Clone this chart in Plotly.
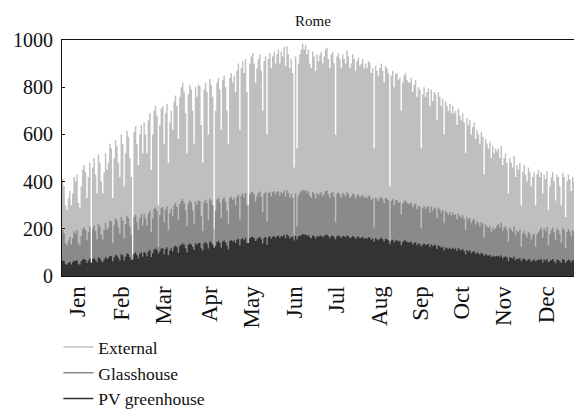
import plotly.graph_objects as go

# Daily peak irradiance (W/m2), one value per day of the year
external = (
    # Jan
    [410, 380, 300, 280, 330, 360, 300, 350, 420, 400, 430, 310, 290, 380, 450, 470, 440, 330, 420, 480, 60, 460, 500, 430, 350, 515, 480, 400, 350, 440, 520]
    # Feb
    + [450, 480, 560, 540, 330, 500, 575, 550, 480, 420, 600, 560, 380, 520, 615, 590, 500, 420, 90, 610, 635, 560, 470, 600, 640, 520, 650, 600]
    # Mar
    + [520, 660, 690, 450, 600, 700, 720, 680, 300, 640, 710, 720, 560, 690, 730, 480, 650, 700, 620, 740, 765, 720, 580, 760, 800, 820, 780, 690, 520, 770, 810]
    # Apr
    + [790, 700, 560, 800, 760, 810, 805, 640, 480, 790, 820, 780, 600, 835, 810, 760, 200, 700, 820, 840, 790, 620, 830, 850, 800, 700, 560, 840, 860, 820]
    # May
    + [850, 780, 870, 900, 620, 880, 910, 860, 920, 780, 300, 900, 930, 945, 900, 820, 880, 920, 940, 870, 700, 910, 930, 600, 920, 945, 880, 930, 950, 900, 940]
    # Jun
    + [960, 900, 950, 930, 970, 890, 975, 940, 880, 920, 860, 460, 930, 540, 900, 940, 960, 985, 960, 980, 940, 960, 900, 880, 950, 930, 870, 940, 910, 935]
    # Jul
    + [950, 900, 930, 960, 967, 920, 880, 940, 950, 900, 600, 930, 945, 920, 880, 940, 920, 900, 955, 930, 880, 900, 940, 920, 870, 910, 925, 890, 900, 920, 880]
    # Aug
    + [900, 880, 910, 905, 860, 880, 540, 890, 870, 850, 880, 900, 870, 820, 890, 880, 860, 380, 850, 870, 800, 855, 860, 830, 840, 700, 820, 850, 860, 830, 820]
    # Sep
    + [820, 840, 780, 810, 830, 760, 800, 790, 540, 770, 800, 760, 780, 795, 720, 790, 740, 780, 770, 660, 780, 760, 720, 750, 600, 740, 720, 700, 730, 690]
    # Oct
    + [720, 690, 700, 640, 710, 680, 660, 690, 650, 520, 670, 640, 660, 600, 630, 650, 580, 620, 600, 560, 610, 590, 430, 580, 560, 540, 570, 500, 550, 520, 540]
    # Nov
    + [530, 540, 500, 550, 470, 500, 520, 480, 350, 500, 480, 460, 510, 420, 470, 450, 480, 300, 440, 470, 430, 400, 460, 440, 380, 420, 440, 300, 430, 450]
    # Dec
    + [420, 440, 350, 430, 410, 445, 280, 380, 420, 440, 400, 320, 430, 420, 380, 300, 437, 420, 250, 400, 430, 410, 360, 420, 400, 330, 410, 420, 380, 300, 400]
)

glasshouse = (
    [195, 180, 140, 130, 150, 165, 135, 160, 190, 180, 195, 140, 130, 170, 200, 205, 195, 150, 185, 210, 30, 200, 215, 190, 155, 220, 210, 175, 155, 195, 225]
    + [195, 205, 235, 230, 140, 215, 245, 235, 205, 180, 250, 235, 160, 220, 255, 245, 210, 175, 40, 250, 260, 230, 195, 245, 262, 215, 265, 245]
    + [215, 265, 278, 185, 245, 285, 290, 275, 125, 260, 288, 292, 228, 280, 296, 195, 265, 285, 252, 300, 310, 292, 236, 305, 318, 325, 310, 280, 212, 308, 320]
    + [312, 278, 222, 316, 302, 320, 318, 254, 190, 312, 324, 308, 238, 328, 320, 300, 80, 277, 324, 330, 312, 245, 326, 334, 315, 277, 222, 330, 338, 322]
    + [330, 302, 336, 345, 240, 340, 350, 332, 352, 302, 118, 346, 355, 358, 345, 315, 338, 352, 358, 335, 270, 348, 355, 232, 352, 358, 338, 355, 360, 345, 356]
    + [360, 340, 356, 350, 362, 336, 364, 352, 332, 346, 330, 175, 350, 210, 340, 352, 360, 366, 360, 365, 352, 360, 340, 332, 356, 350, 328, 352, 342, 350]
    + [356, 338, 348, 360, 362, 346, 332, 352, 356, 338, 228, 348, 354, 345, 332, 352, 345, 338, 356, 348, 332, 338, 350, 345, 328, 340, 346, 334, 338, 344, 330]
    + [336, 330, 340, 338, 322, 330, 205, 332, 326, 318, 330, 336, 325, 308, 332, 328, 322, 145, 318, 325, 300, 320, 322, 310, 314, 262, 306, 318, 320, 310, 306]
    + [306, 312, 292, 302, 308, 284, 298, 295, 202, 288, 298, 284, 292, 296, 268, 294, 276, 290, 286, 246, 290, 282, 268, 280, 224, 275, 268, 260, 272, 257]
    + [268, 258, 262, 240, 265, 254, 246, 258, 242, 195, 250, 240, 246, 224, 236, 243, 218, 232, 225, 210, 228, 222, 162, 218, 210, 203, 214, 188, 206, 196, 203]
    + [215, 220, 205, 225, 192, 205, 212, 196, 145, 205, 196, 188, 210, 172, 192, 185, 196, 124, 180, 192, 176, 164, 188, 180, 156, 172, 180, 124, 176, 185]
    + [195, 205, 162, 200, 190, 208, 130, 178, 195, 205, 186, 150, 200, 195, 178, 140, 204, 195, 116, 186, 200, 190, 168, 195, 186, 154, 190, 195, 178, 140, 186]
)

pv_greenhouse = (
    [66, 62, 50, 48, 55, 60, 50, 58, 66, 64, 68, 52, 48, 62, 70, 72, 68, 55, 66, 74, 55, 72, 76, 68, 58, 78, 75, 65, 58, 70, 80]
    + [72, 76, 86, 84, 62, 78, 90, 86, 76, 66, 92, 88, 66, 82, 95, 92, 80, 68, 70, 94, 98, 88, 74, 94, 100, 82, 102, 96]
    + [84, 104, 110, 80, 96, 112, 116, 110, 95, 104, 116, 118, 92, 114, 122, 88, 108, 118, 104, 124, 128, 122, 98, 128, 134, 138, 132, 118, 100, 132, 138]
    + [134, 124, 110, 138, 132, 140, 140, 118, 108, 138, 144, 136, 116, 146, 142, 134, 120, 128, 144, 148, 140, 120, 146, 150, 142, 128, 112, 148, 152, 146]
    + [150, 140, 154, 158, 130, 156, 160, 152, 162, 140, 140, 160, 164, 166, 160, 148, 156, 162, 166, 156, 138, 162, 165, 132, 164, 168, 158, 166, 170, 162, 168]
    + [172, 162, 170, 168, 175, 160, 176, 170, 158, 166, 164, 150, 170, 155, 168, 170, 174, 178, 174, 178, 170, 174, 164, 160, 172, 168, 158, 170, 166, 170]
    + [172, 164, 168, 174, 176, 168, 160, 170, 172, 164, 155, 168, 172, 168, 160, 170, 168, 164, 172, 168, 160, 164, 170, 166, 158, 164, 168, 160, 162, 166, 158]
    + [162, 158, 164, 162, 154, 158, 145, 160, 156, 152, 158, 162, 156, 146, 158, 156, 152, 135, 150, 154, 142, 150, 152, 146, 148, 130, 144, 150, 150, 144, 142]
    + [142, 146, 134, 140, 144, 130, 138, 136, 125, 132, 138, 130, 134, 136, 122, 134, 126, 132, 130, 114, 130, 126, 120, 124, 108, 122, 118, 114, 120, 112]
    + [120, 114, 116, 106, 118, 112, 108, 114, 106, 92, 110, 104, 108, 96, 102, 106, 94, 100, 96, 90, 98, 94, 85, 92, 88, 86, 90, 80, 86, 82, 84]
    + [84, 86, 80, 88, 74, 80, 84, 78, 62, 80, 76, 74, 82, 66, 74, 72, 76, 62, 70, 74, 68, 64, 72, 70, 60, 66, 70, 62, 66, 70]
    + [68, 72, 56, 70, 66, 72, 58, 62, 68, 72, 64, 54, 70, 68, 62, 55, 72, 68, 55, 64, 70, 66, 58, 68, 64, 54, 66, 68, 62, 55, 64]
)

days = list(range(len(external)))

month_labels = ["Jen", "Feb", "Mar", "Apr", "May", "Jun", "Jul", "Aug", "Sep", "Oct", "Nov", "Dec"]
month_tick_days = [11, 42, 71, 103, 133, 163, 192, 222, 251, 280, 309, 339]

series = [
    ("External", external, "#bfbfbf"),
    ("Glasshouse", glasshouse, "#8a8a8a"),
    ("PV greenhouse", pv_greenhouse, "#333333"),
]

FONT = "Liberation Serif"
fig = go.Figure()
for name, vals, col in series:
    fig.add_trace(go.Scatter(
        x=days, y=vals, mode="lines", line=dict(width=0, shape="hv", color=col),
        fill="tozeroy", fillcolor=col, showlegend=False, hoverinfo="skip",
    ))
for name, vals, col in series:
    fig.add_trace(go.Scatter(
        x=[None], y=[None], mode="lines", name=name,
        line=dict(color=col, width=1.5),
    ))

# The page body adds an 8 px offset, so the figure is 8 px smaller and margins are shifted
W, H = 574, 410
fig.update_layout(
    width=W, height=H,
    margin=dict(l=54, r=0, t=32, b=142, autoexpand=False),
    paper_bgcolor="white", plot_bgcolor="white",
    font=dict(family=FONT, size=18, color="#111111"),
    title=dict(text="Rome", x=(313 - 62) / 520, xref="paper", xanchor="center",
               yref="container", y=1 - 13 / H, yanchor="middle",
               font=dict(family=FONT, size=15, color="#111111")),
    showlegend=True,
    legend=dict(x=-0.007, xanchor="left", y=-0.225, yanchor="top",
                font=dict(family=FONT, size=17.5, color="#111111"),
                bgcolor="rgba(0,0,0,0)", tracegroupgap=0),
)
fig.update_xaxes(
    range=[0, len(external) - 1], tickmode="array", tickvals=month_tick_days, ticktext=month_labels,
    tickangle=-90, ticks="", showgrid=False, zeroline=False, automargin=False,
    showline=True, linecolor="#111111", linewidth=1.2, mirror=True,
    tickfont=dict(family=FONT, size=23, color="#111111"),
)
fig.update_yaxes(
    range=[0, 1000], tickvals=[0, 200, 400, 600, 800, 1000], automargin=False,
    ticks="inside", ticklen=3, tickcolor="#111111", showgrid=False, zeroline=False,
    showline=True, linecolor="#111111", linewidth=1.2, mirror=False,
    ticklabelstandoff=4,
    tickfont=dict(family=FONT, size=20, color="#111111"),
)

fig.write_html("out.html")
